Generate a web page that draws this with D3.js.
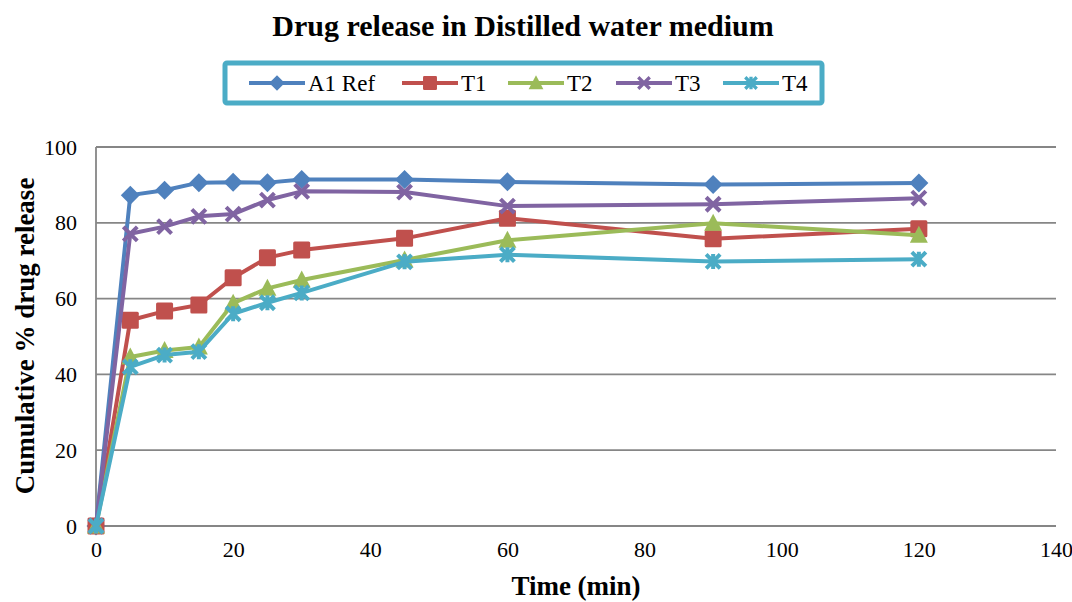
<!DOCTYPE html>
<html>
<head>
<meta charset="utf-8">
<script src="https://cdn.jsdelivr.net/npm/d3@7"></script>
<style>
  body { margin: 0; background: #fff; }
  svg text { font-family: "Liberation Serif", "Times New Roman", serif; }
</style>
</head>
<body>
<svg width="1072" height="602"></svg>
<script>
let times = [0, 5, 10, 15, 20, 25, 30, 45, 60, 90, 120];
let a1_ref = [0, 87.3, 88.6, 90.6, 90.7, 90.6, 91.4, 91.4, 90.8, 90.1, 90.5];
let t1 = [0, 54.3, 56.7, 58.3, 65.5, 70.8, 72.8, 75.9, 81.2, 75.8, 78.4];
let t2 = [0, 44.6, 46.3, 47.2, 58.8, 62.7, 64.9, 70.2, 75.4, 79.9, 76.7];
let t3 = [0, 77.1, 79.0, 81.7, 82.3, 86.0, 88.3, 88.1, 84.4, 84.9, 86.5];
let t4 = [0, 42.0, 45.1, 46.0, 56.0, 58.9, 61.5, 69.7, 71.6, 69.8, 70.4];
let series_names = ["A1 Ref", "T1", "T2", "T3", "T4"];
let series_colors = ["#4F81BD", "#C0504D", "#9BBB59", "#8064A2", "#4BACC6"];
let series_shapes = ["diamond", "square", "triangle", "cross", "star"];
let x_ticks = [0, 20, 40, 60, 80, 100, 120, 140];
let y_ticks = [0, 20, 40, 60, 80, 100];

let series_data = [a1_ref, t1, t2, t3, t4].map(function (vals, i) {
    return {
        name: series_names[i],
        color: series_colors[i],
        shape: series_shapes[i],
        points: vals.map(function (v, j) { return { t: times[j], v: v }; })
    };
});

let serif = '"Liberation Serif", "Times New Roman", serif';
let svg = d3.select('svg');

let x = d3.scaleLinear().domain([0, 140]).range([96, 1056]);
let y = d3.scaleLinear().domain([0, 100]).range([526, 147]);

// gridlines
svg.append('g')
    .selectAll('line')
    .data(y_ticks)
    .join('line')
    .attr('x1', x(0))
    .attr('x2', x(140))
    .attr('y1', function (d) { return y(d); })
    .attr('y2', function (d) { return y(d); })
    .attr('stroke', '#868686')
    .attr('stroke-width', 1.8);

// y axis line
svg.append('line')
    .attr('x1', x(0)).attr('x2', x(0))
    .attr('y1', y(0)).attr('y2', y(100))
    .attr('stroke', '#868686')
    .attr('stroke-width', 1.8);

// axes (labels only)
let xAxis = d3.axisBottom(x).tickValues(x_ticks).tickSize(0).tickPadding(15);
svg.append('g')
    .attr('transform', 'translate(0,' + y(0) + ')')
    .call(xAxis)
    .attr('font-family', serif)
    .attr('font-size', 22)
    .call(function (g) { g.select('.domain').remove(); })
    .selectAll('text')
    .attr('fill', '#000');

let yAxis = d3.axisLeft(y).tickValues(y_ticks).tickSize(0).tickPadding(19);
svg.append('g')
    .attr('transform', 'translate(' + x(0) + ',0)')
    .call(yAxis)
    .attr('font-family', serif)
    .attr('font-size', 22)
    .call(function (g) { g.select('.domain').remove(); })
    .selectAll('text')
    .attr('fill', '#000');

// title and axis titles
svg.append('text')
    .attr('x', 523).attr('y', 36)
    .attr('text-anchor', 'middle')
    .attr('font-size', 30).attr('font-weight', 'bold')
    .text('Drug release in Distilled water medium');

svg.append('text')
    .attr('x', 576).attr('y', 595)
    .attr('text-anchor', 'middle')
    .attr('font-size', 27).attr('font-weight', 'bold')
    .text('Time (min)');

svg.append('text')
    .attr('transform', 'translate(34,336) rotate(-90)')
    .attr('text-anchor', 'middle')
    .attr('font-size', 27).attr('font-weight', 'bold')
    .text('Cumulative % drug release');

// marker drawing
function drawMarker(g, shape, color) {
    if (shape === 'diamond') {
        g.append('path')
            .attr('d', 'M0,-9.5L9.5,0L0,9.5L-9.5,0Z')
            .attr('fill', color);
    } else if (shape === 'square') {
        g.append('rect')
            .attr('x', -8.5).attr('y', -8.5).attr('width', 17).attr('height', 17)
            .attr('rx', 1.5)
            .attr('fill', color);
    } else if (shape === 'triangle') {
        g.append('path')
            .attr('d', 'M0,-9.5L9,7.5L-9,7.5Z')
            .attr('fill', color);
    } else if (shape === 'cross') {
        g.append('path')
            .attr('d', 'M-7,-7L7,7M-7,7L7,-7')
            .attr('stroke', color).attr('stroke-width', 4);
    } else {
        g.append('path')
            .attr('d', 'M-7,-7L7,7M-7,7L7,-7M0,-7.5L0,7.5')
            .attr('stroke', color).attr('stroke-width', 4);
    }
}

let line = d3.line()
    .x(function (d) { return x(d.t); })
    .y(function (d) { return y(d.v); });

let series_g = svg.append('g')
    .selectAll('g')
    .data(series_data)
    .join('g');

series_g.append('path')
    .attr('d', function (d) { return line(d.points); })
    .attr('fill', 'none')
    .attr('stroke', function (d) { return d.color; })
    .attr('stroke-width', 4)
    .attr('stroke-linejoin', 'round');

series_g.each(function (s) {
    d3.select(this)
        .selectAll('g.mk')
        .data(s.points)
        .join('g')
        .attr('class', 'mk')
        .attr('transform', function (d) { return 'translate(' + x(d.t) + ',' + y(d.v) + ')'; })
        .each(function () { drawMarker(d3.select(this), s.shape, s.color); });
});

// legend
let legend = svg.append('g');
legend.append('rect')
    .attr('x', 225).attr('y', 63).attr('width', 597).attr('height', 40)
    .attr('rx', 2)
    .attr('fill', '#fff')
    .attr('stroke', '#4BACC6')
    .attr('stroke-width', 5);

let legend_x = [249, 402, 508, 616, 723];
let legend_item = legend.selectAll('g.item')
    .data(series_data)
    .join('g')
    .attr('class', 'item')
    .attr('transform', function (d, i) { return 'translate(' + legend_x[i] + ',83)'; });

legend_item.append('line')
    .attr('x1', 0).attr('x2', 56)
    .attr('stroke', function (d) { return d.color; })
    .attr('stroke-width', 4);

legend_item.each(function (s) {
    let m = d3.select(this).append('g').attr('transform', 'translate(28,0) scale(0.82)');
    drawMarker(m, s.shape, s.color);
});

legend_item.append('text')
    .attr('x', 59)
    .attr('y', 8)
    .attr('font-size', 23)
    .text(function (d) { return d.name; });
</script>
</body>
</html>
